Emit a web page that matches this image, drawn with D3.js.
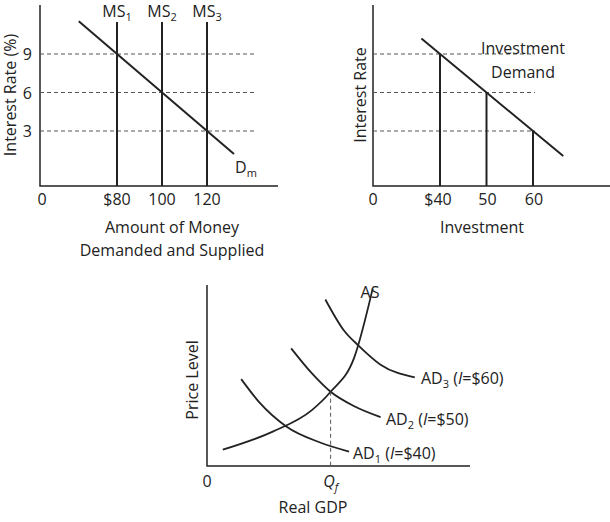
<!DOCTYPE html>
<html><head><meta charset="utf-8">
<script src="https://cdn.jsdelivr.net/npm/d3@7"></script>
<style>body{margin:0;background:#fff}text{font-family:"Open Sans",sans-serif;font-size:16px;fill:#222}</style>
</head><body>
<svg id="chart" width="610" height="522"></svg>
<script>
const svg = d3.select("#chart");
const ink = "#222";

// panel 1: money market
let rates = [3, 6, 9];
let supply = [{ name: "MS", sub: "1", value: 80 }, { name: "MS", sub: "2", value: 100 }, { name: "MS", sub: "3", value: 120 }];
let demand = [{ q: 63, r: 11.55 }, { q: 132, r: 1.2 }];

let x1 = d3.scaleLinear().domain([80, 120]).range([117, 207]);
let y1 = d3.scaleLinear().domain([3, 9]).range([131, 54]);

// panel 2: investment
let invest = [{ r: 9, i: 40 }, { r: 6, i: 50 }, { r: 3, i: 60 }];
let invLine = [{ i: 36, r: 10.2 }, { i: 66.5, r: 1.05 }];
let x2 = d3.scaleLinear().domain([40, 60]).range([440, 533]);

// panel 3: AD / AS
let x3 = d3.scaleLinear().domain([0, 10]).range([207, 470]);
let y3 = d3.scaleLinear().domain([0, 10]).range([466, 285]);
let AS = [[0.6, 0.9], [2.5, 1.9], [4.0, 3.1], [4.7, 4.1], [5.6, 6.0], [6.3, 9.8]];
let AD = [
  { label: "1", inv: "$40", pts: [[1.3, 4.8], [2.0, 3.5], [3.0, 2.2], [4.3, 1.3], [5.4, 0.8]] },
  { label: "2", inv: "$50", pts: [[3.2, 6.5], [4.0, 5.1], [4.7, 4.1], [5.6, 3.3], [6.6, 2.7]] },
  { label: "3", inv: "$60", pts: [[4.5, 9.2], [5.2, 7.5], [5.8, 6.6], [6.6, 5.6], [7.9, 4.9]] }
];
let Qf = 4.7;

function axes(x0, yTop, yBot, xEnd) {
  svg.append("path").attr("d", `M${x0},${yTop}V${yBot}H${xEnd}`)
    .attr("fill", "none").attr("stroke", ink).attr("stroke-width", 1.5);
}
function txt(x, y, s, anchor = "middle") {
  return svg.append("text").attr("x", x).attr("y", y).attr("text-anchor", anchor).text(s);
}
function sub(t, main, s) {
  t.text(null);
  t.append("tspan").text(main);
  t.append("tspan").attr("font-size", "11px").attr("dy", 4).text(s);
}

// --- panel 1
axes(40, 5, 186, 278);
rates.forEach(r => svg.append("line").attr("x1", 40).attr("x2", 255).attr("y1", y1(r)).attr("y2", y1(r))
  .attr("stroke", "#555").attr("stroke-dasharray", "4,3"));
rates.forEach(r => txt(32, y1(r) + 6, r, "end"));
supply.forEach(d => {
  svg.append("line").attr("x1", x1(d.value)).attr("x2", x1(d.value)).attr("y1", 22).attr("y2", 186)
    .attr("stroke", ink).attr("stroke-width", 2);
  sub(txt(x1(d.value), 17, ""), d.name, d.sub);
  txt(x1(d.value), 205, (d.value === 80 ? "$" : "") + d.value);
});
svg.append("line").attr("x1", x1(demand[0].q)).attr("y1", y1(demand[0].r))
  .attr("x2", x1(demand[1].q)).attr("y2", y1(demand[1].r)).attr("stroke", ink).attr("stroke-width", 2);
sub(txt(246, 173, ""), "D", "m");
txt(42, 205, "0");
txt(172, 233, "Amount of Money");
txt(172, 256, "Demanded and Supplied");
txt(0, 0, "Interest Rate (%)").attr("transform", "translate(16,95) rotate(-90)");

// --- panel 2
axes(373, 5, 186, 610);
rates.forEach(r => svg.append("line").attr("x1", 373).attr("x2", 535).attr("y1", y1(r)).attr("y2", y1(r))
  .attr("stroke", "#555").attr("stroke-dasharray", "4,3"));
invest.forEach(d => {
  svg.append("line").attr("x1", x2(d.i)).attr("x2", x2(d.i)).attr("y1", y1(d.r)).attr("y2", 186)
    .attr("stroke", ink).attr("stroke-width", 2);
  txt(x2(d.i) + (d.i === 40 ? -2 : 1), 205, (d.i === 40 ? "$" : "") + d.i);
});
svg.append("line").attr("x1", x2(invLine[0].i)).attr("y1", y1(invLine[0].r))
  .attr("x2", x2(invLine[1].i)).attr("y2", y1(invLine[1].r)).attr("stroke", ink).attr("stroke-width", 2);
txt(523, 54, "Investment");
txt(523, 78, "Demand");
txt(373, 205, "0");
txt(482, 233, "Investment");
txt(0, 0, "Interest Rate").attr("transform", "translate(366,95) rotate(-90)");

// --- panel 3
axes(207, 285, 466, 470);
let line = d3.line().x(d => x3(d[0])).y(d => y3(d[1])).curve(d3.curveMonotoneX);
svg.append("path").attr("d", line(AS)).attr("fill", "none").attr("stroke", ink).attr("stroke-width", 1.8);
AD.forEach(d => svg.append("path").attr("d", line(d.pts)).attr("fill", "none").attr("stroke", ink).attr("stroke-width", 1.8));
svg.append("line").attr("x1", x3(Qf)).attr("x2", x3(Qf)).attr("y1", y3(4.1)).attr("y2", 466)
  .attr("stroke", "#555").attr("stroke-dasharray", "4,3");
txt(370, 298, "AS");
[[353, 459], [386, 425], [421, 384]].forEach((p, i) => {
  const t = txt(p[0], p[1], "", "start");
  t.append("tspan").text("AD");
  t.append("tspan").attr("font-size", "11px").attr("dy", 4).text(AD[i].label);
  t.append("tspan").attr("dy", -4).text(" (");
  t.append("tspan").attr("font-style", "italic").text("I");
  t.append("tspan").text("=" + AD[i].inv + ")");
});
const q = txt(x3(Qf), 487, "");
q.append("tspan").attr("font-style", "italic").text("Q");
q.append("tspan").attr("font-style", "italic").attr("font-size", "11px").attr("dy", 4).text("f");
txt(207, 487, "0");
txt(313, 513, "Real GDP");
txt(0, 0, "Price Level").attr("transform", "translate(198,380) rotate(-90)");
</script>
</body></html>
